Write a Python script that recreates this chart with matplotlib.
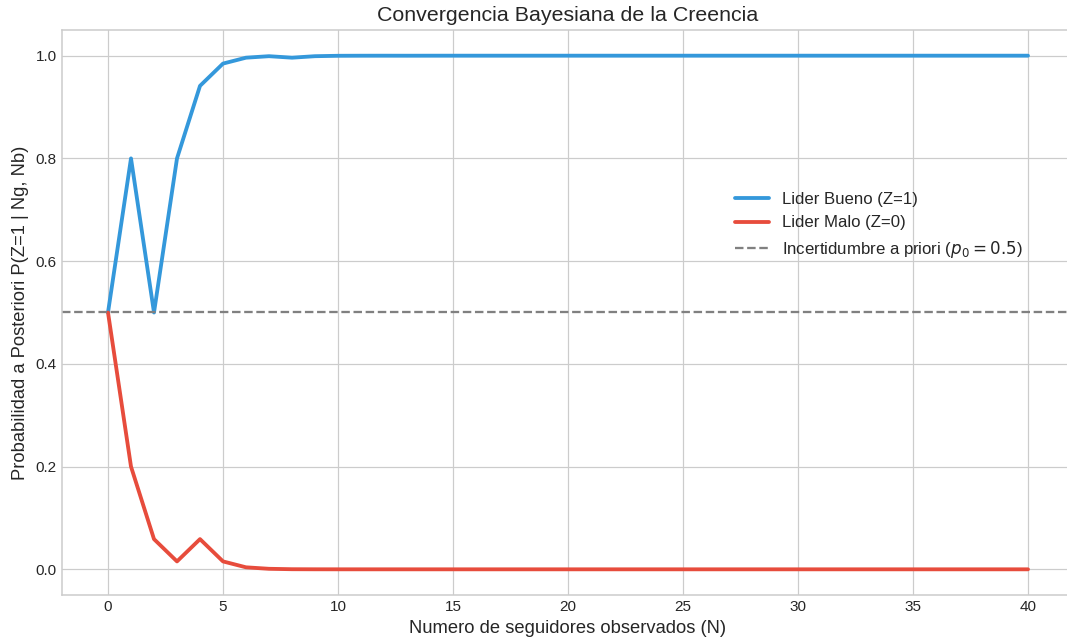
import matplotlib.pyplot as plt

# number of followers observed
n_obs = list(range(41))

# posterior P(Z=1 | Ng, Nb) for a good leader
post_bueno = [0.5, 0.8, 0.5, 0.8, 0.9412, 0.9846, 0.9961, 0.999, 0.9961, 0.999,
              0.9998, 0.99994, 0.99998, 0.99994, 0.99998, 0.999996, 0.999999, 1.0, 1.0, 1.0,
              1.0, 1.0, 1.0, 1.0, 1.0, 1.0, 1.0, 1.0, 1.0, 1.0,
              1.0, 1.0, 1.0, 1.0, 1.0, 1.0, 1.0, 1.0, 1.0, 1.0, 1.0]

# posterior for a bad leader
post_malo = [0.5, 0.2, 0.0588, 0.0154, 0.0588, 0.0154, 0.0039, 0.001, 0.0002, 0.00006,
             0.00002, 0.000004, 0.000001, 0.0, 0.0, 0.0, 0.0, 0.0, 0.0, 0.0,
             0.0, 0.0, 0.0, 0.0, 0.0, 0.0, 0.0, 0.0, 0.0, 0.0,
             0.0, 0.0, 0.0, 0.0, 0.0, 0.0, 0.0, 0.0, 0.0, 0.0, 0.0]

prior = 0.5

plt.style.use('seaborn-v0_8-whitegrid')
plt.rcParams['font.family'] = ['Liberation Sans', 'DejaVu Sans']
plt.rcParams['mathtext.fontset'] = 'dejavusans'

dpi = 110
fig = plt.figure(figsize=(1067 / dpi, 643 / dpi), dpi=dpi)
ax = fig.add_axes([62 / 1067, 1 - 595 / 643, 1012 / 1067, 565 / 643])

ax.plot(n_obs, post_bueno, color='#3498db', linewidth=2.5, label='Lider Bueno (Z=1)')
ax.plot(n_obs, post_malo, color='#e74c3c', linewidth=2.5, label='Lider Malo (Z=0)')
ax.axhline(prior, color='gray', linestyle='--', linewidth=1.5,
           label=r'Incertidumbre a priori ($p_0 = 0.5$)')

ax.set_xlim(-2, 42)
ax.set_ylim(-0.05, 1.05)

ax.set_title('Convergencia Bayesiana de la Creencia', fontsize=14)
ax.set_xlabel('Numero de seguidores observados (N)', fontsize=12)
ax.set_ylabel('Probabilidad a Posteriori P(Z=1 | Ng, Nb)', fontsize=12)
ax.tick_params(labelsize=10)

for s in ax.spines.values():
    s.set_visible(True)
    s.set_color('#cccccc')

ax.legend(loc='upper left', bbox_to_anchor=(0.65, 0.74), fontsize=11, frameon=False)

fig.savefig('out.png', dpi=dpi)
